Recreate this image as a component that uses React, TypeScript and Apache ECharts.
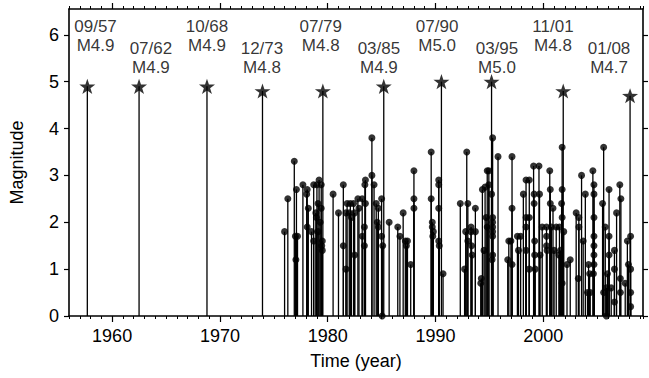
import React, { useEffect, useRef } from "react";
import * as echarts from "echarts";

// Large events (stars)
const starYears = [1957.7, 1962.5, 1968.8, 1973.95, 1979.55, 1985.2, 1990.55, 1995.2, 2001.85, 2008.05];
const starMags = [4.9, 4.9, 4.9, 4.8, 4.8, 4.9, 5.0, 5.0, 4.8, 4.7];
const starDates = ["09/57", "07/62", "10/68", "12/73", "07/79", "03/85", "07/90", "03/95", "11/01", "01/08"];
const labelYears = [1958.46, 1963.6, 1968.8, 1973.9, 1979.35, 1984.75, 1990.15, 1995.7, 2000.9, 2006.1];

// Small events
const eventYears = [
  1976.0, 1976.3, 1976.9, 1977.1, 1977.0, 1977.2, 1977.05, 1977.7, 1978.1, 1978.05,
  1978.1, 1978.2, 1978.5, 1978.7, 1978.7, 1978.9, 1979.0, 1979.2, 1979.1, 1979.4,
  1979.4, 1979.45, 1979.5, 1978.95, 1979.1, 1979.3, 1979.5, 1980.5, 1981.0, 1981.45,
  1981.45, 1981.7, 1981.7, 1981.8,
  1982.0, 1982.1, 1982.2, 1982.4, 1982.5, 1982.5, 1982.8, 1982.9, 1983.2, 1983.2,
  1983.4, 1983.4, 1983.45, 1983.5, 1983.5, 1984.1, 1984.1, 1984.3, 1984.5, 1984.6,
  1984.7, 1984.7, 1985.0, 1985.0, 1985.1, 1985.05, 1985.7, 1986.5, 1986.7, 1987.0,
  1987.2, 1987.3, 1987.4, 1987.7, 1988.0, 1988.0, 1988.0,
  1989.6, 1989.6, 1989.7, 1989.7, 1989.75, 1989.8, 1990.3, 1990.3, 1990.3, 1990.3,
  1990.35, 1990.7, 1992.3, 1992.7, 1992.8, 1992.9, 1993.0, 1993.0, 1993.3, 1993.3,
  1993.35, 1993.4, 1993.7, 1993.7, 1994.2, 1994.25, 1994.35, 1994.6, 1994.8, 1994.8,
  1994.5, 1994.7,
  1995.3, 1994.95, 1994.95, 1995.2, 1995.3, 1995.3, 1995.3, 1995.3, 1995.3, 1995.3,
  1995.25, 1995.8, 1996.7, 1996.8, 1997.0, 1997.1, 1997.1, 1997.1, 1997.6, 1997.7,
  1997.9, 1998.15, 1998.4, 1998.4, 1998.4, 1998.4, 1998.7, 1998.7, 1998.7, 1999.1,
  1999.15, 1999.15, 1999.2, 1999.2, 1999.25, 1999.6, 1999.65, 1999.7, 1999.9, 2000.3,
  2000.3, 2000.3, 2000.35, 2000.6, 2000.65, 2000.65, 2000.75, 2000.9, 2001.0, 2001.2,
  2001.75, 2001.75, 2001.7, 2001.75, 2001.5, 2001.6, 2001.9, 2001.75, 2001.45, 2002.2,
  2002.5, 2003.05, 2003.3, 2003.3, 2003.25, 2003.55, 2003.7, 2003.9, 2004.2, 2004.3,
  2004.35, 2004.1, 2004.6, 2004.7, 2004.7, 2004.7, 2004.7, 2004.7, 2004.7, 2004.7,
  2004.65, 2005.5, 2005.6, 2005.75, 2006.1, 2006.1, 2006.1, 2005.95, 2005.6, 2005.85,
  2005.85, 2006.3, 2006.6, 2006.6, 2006.6, 2006.8, 2007.1, 2007.2, 2007.15, 2007.15,
  2007.6, 2007.8, 2007.9, 2008.1, 2008.1, 2008.1, 2008.1,
];
const eventMags = [
  1.8, 2.5, 3.3, 2.7, 1.7, 1.7, 1.2, 2.8, 2.7, 2.6,
  1.9, 2.3, 1.8, 2.8, 1.6, 2.2, 2.8, 2.9, 2.4, 2.8,
  2.3, 1.5, 1.4, 2.1, 1.8, 2.0, 1.6, 2.6, 2.2, 2.8,
  1.5, 2.2, 1.0, 2.4,
  2.2, 2.4, 2.1, 2.4, 1.3, 2.2, 2.5, 2.3, 1.7, 2.5,
  1.9, 1.5, 2.8, 2.9, 2.4, 3.0, 3.8, 2.8, 2.4, 2.0,
  2.3, 1.9, 2.5, 1.7, 1.5, 0.0, 2.0, 1.9, 1.7, 2.2,
  1.6, 1.5, 1.6, 1.1, 3.1, 2.5, 2.3,
  3.5, 2.5, 2.0, 1.9, 1.7, 1.8, 2.9, 2.8, 2.3, 1.6,
  1.5, 0.9, 2.4, 1.0, 1.8, 3.5, 2.4, 1.6, 1.8, 1.9,
  1.5, 1.3, 2.3, 1.8, 0.7, 0.8, 2.7, 2.75, 3.1, 1.9,
  1.4, 2.1,
  3.8, 3.1, 2.8, 2.6, 2.1, 2.0, 1.9, 1.8, 1.7, 1.3,
  1.2, 3.4, 1.2, 1.6, 1.6, 3.4, 2.3, 1.1, 1.7, 1.4,
  1.7, 2.6, 2.9, 2.1, 1.9, 1.4, 2.9, 2.1, 1.0, 3.2,
  2.6, 2.4, 1.6, 1.3, 1.0, 3.2, 2.6, 1.3, 1.9, 1.9,
  1.7, 1.5, 1.4, 3.1, 2.7, 2.4, 1.9, 2.3, 1.4, 1.9,
  3.6, 2.7, 2.4, 2.1, 1.9, 1.4, 1.8, 0.7, 1.3, 1.1,
  1.2, 2.2, 2.1, 1.9, 0.8, 3.0, 1.6, 2.6, 1.1, 0.9,
  0.5, 0.5, 3.1, 2.8, 2.6, 2.1, 1.7, 1.5, 1.3, 1.1,
  0.9, 2.4, 3.6, 1.9, 2.7, 1.7, 1.3, 0.9, 0.5, 0.6,
  0.0, 0.6, 1.4, 1.0, 0.3, 2.2, 2.8, 2.5, 0.8, 0.5,
  0.7, 1.6, 1.1, 1.0, 1.7, 0.5, 0.2,
];

const decadeTicks = [1960, 1970, 1980, 1990, 2000];
const magTicks = [0, 1, 2, 3, 4, 5, 6];
const X_MIN = 1956;
const X_MAX = 2009.25;
const Y_MIN = 0;
const Y_MAX = 6.55;

const FONT = "'Liberation Sans', Arial, Helvetica, sans-serif";
const STAR =
  "path://M50 0 L61.8 35.1 L98.9 35.3 L69.1 57.4 L80.3 92.7 L50 71.2 L19.7 92.7 L30.9 57.4 L1.1 35.3 L38.2 35.1 Z";

export default function App() {
  const ref = useRef<HTMLDivElement>(null);

  useEffect(() => {
    if (!ref.current) return;
    const chart = echarts.init(ref.current, null, { renderer: "svg" });

    const eventData = eventYears.map((y, i) => [y, eventMags[i]]);
    const starData = starYears.map((y, i) => [y, starMags[i]]);
    const stemData = [...starData, ...eventData];
    const labelData = labelYears.map((y, i) => ({
      value: [y, i % 2 === 0 ? 5.98 : 5.5],
      text: `${starDates[i]}\nM${starMags[i].toFixed(1)}`,
    }));

    const line = { color: "#000", width: 1.6 };
    const mkX = (pos: "top" | "bottom", major: boolean, labels: boolean) => ({
      type: "value",
      position: pos,
      min: X_MIN,
      max: X_MAX,
      ...(major ? {} : { interval: 1 }),
      axisLine: { show: !major, onZero: false, lineStyle: line },
      axisTick: major
        ? { show: true, length: 6, customValues: decadeTicks, lineStyle: { color: "#000", width: 1.2 } }
        : { show: true, length: 3, lineStyle: { color: "#000", width: 1 } },
      axisLabel: labels
        ? {
            show: true,
            color: "#000",
            fontSize: 18,
            fontFamily: FONT,
            margin: 11,
            formatter: (v: number) => (Math.abs(v % 10) < 1e-6 ? String(v) : ""),
          }
        : { show: false },
      splitLine: { show: false },
      ...(labels
        ? {
            name: "Time (year)",
            nameLocation: "middle",
            nameGap: 36,
            nameTextStyle: { color: "#000", fontSize: 18, fontFamily: FONT },
          }
        : {}),
    });

    const mkY = (pos: "left" | "right", labels: boolean) => ({
      type: "value",
      position: pos,
      min: Y_MIN,
      max: Y_MAX,
      interval: 1,
      axisLine: { show: true, onZero: false, lineStyle: line },
      axisTick: { show: true, length: 5, customValues: magTicks, lineStyle: { color: "#000", width: 1.2 } },
      axisLabel: labels
        ? {
            show: true,
            color: "#000",
            fontSize: 18,
            fontFamily: FONT,
            margin: 10,
            customValues: magTicks,
            formatter: (v: number) => (Number.isInteger(v) ? String(v) : ""),
          }
        : { show: false },
      splitLine: { show: false },
      ...(labels
        ? {
            name: "Magnitude",
            nameLocation: "middle",
            nameGap: 43,
            nameTextStyle: { color: "#000", fontSize: 18, fontFamily: FONT },
          }
        : {}),
    });

    chart.setOption({
      animation: false,
      backgroundColor: "#fff",
      grid: { left: 68, right: 6, top: 9, bottom: 62, containLabel: false },
      xAxis: [mkX("bottom", false, true), mkX("bottom", true, false), mkX("top", false, false), mkX("top", true, false)],
      yAxis: [mkY("left", true), mkY("right", false)],
      series: [
        {
          type: "custom",
          xAxisIndex: 0,
          yAxisIndex: 0,
          data: stemData,
          z: 1,
          silent: true,
          renderItem: (_p: any, api: any) => {
            const x = api.value(0);
            const y = api.value(1);
            const b = api.coord([x, 0]);
            const t = api.coord([x, y]);
            return {
              type: "line",
              shape: { x1: b[0], y1: b[1], x2: t[0], y2: t[1] },
              style: { stroke: "#000", lineWidth: 1.3 },
            };
          },
        },
        {
          type: "scatter",
          data: eventData,
          symbol: "circle",
          symbolSize: 7,
          itemStyle: { color: "#000" },
          z: 2,
          silent: true,
        },
        {
          type: "scatter",
          data: starData,
          symbol: STAR,
          symbolSize: 16,
          symbolKeepAspect: true,
          itemStyle: { color: "#000" },
          z: 3,
          silent: true,
        },
        {
          type: "scatter",
          data: labelData,
          symbolSize: 0,
          z: 4,
          silent: true,
          label: {
            show: true,
            position: "inside",
            color: "#000",
            fontSize: 17,
            lineHeight: 19,
            fontFamily: FONT,
            formatter: (p: any) => p.data.text,
          },
        },
      ],
    });

    return () => chart.dispose();
  }, []);

  return <div ref={ref} style={{ width: 649, height: 378, position: "absolute", left: 0, top: 0 }} />;
}
